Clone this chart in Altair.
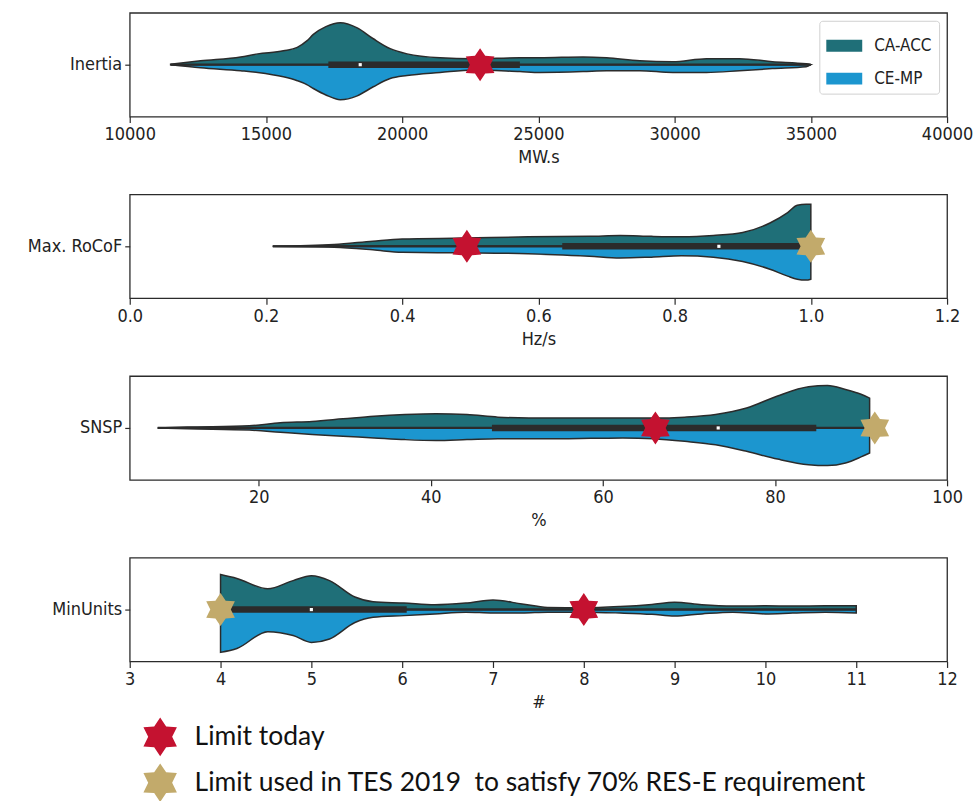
import math
import altair as alt
import pandas as pd

# ---------------- data ----------------
SERIES = ["CA-ACC", "CE-MP"]
LIMITS = ["Limit today", "Limit used in TES 2019\u00a0 to satisfy 70% RES-E requirement"]

# Inertia (MW.s): relative half-widths of the split violin
inertia_x = [11500, 12600, 14070, 14700, 15640, 16150, 16500, 16740, 17200, 17730, 18350,
             18940, 19560, 20180, 21390, 22600, 24320, 25060, 26640, 27500, 28720, 29930,
             31170, 32380, 33590, 34830, 35000]
inertia_up = [0.01, 0.09, 0.18, 0.25, 0.32, 0.40, 0.55, 0.70, 0.88, 0.97, 0.85, 0.60, 0.37,
              0.25, 0.16, 0.14, 0.16, 0.16, 0.18, 0.16, 0.09, 0.07, 0.14, 0.14, 0.07, 0.02,
              0.0]
inertia_lo = [0.0, 0.07, 0.14, 0.18, 0.28, 0.37, 0.46, 0.55, 0.70, 0.81, 0.72, 0.51, 0.32,
              0.25, 0.18, 0.12, 0.16, 0.18, 0.16, 0.14, 0.14, 0.18, 0.18, 0.14, 0.09, 0.05,
              0.0]
inertia_box = [11500, 17290, 18460, 24320, 35000]   # min, q1, median, q3, max
inertia_lim = [22860, None]

# Max. RoCoF (Hz/s)
rocof_x = [0.21, 0.30, 0.357, 0.40, 0.49, 0.585, 0.675, 0.72, 0.766, 0.81, 0.857, 0.90,
           0.94, 0.966, 0.98, 0.993, 1.0]
rocof_up = [0.0, 0.04, 0.12, 0.17, 0.19, 0.22, 0.23, 0.25, 0.23, 0.22, 0.25, 0.32, 0.54,
            0.78, 0.95, 0.97, 0.97]
rocof_lo = [0.0, 0.02, 0.08, 0.14, 0.15, 0.17, 0.23, 0.27, 0.25, 0.22, 0.25, 0.35, 0.53,
            0.69, 0.76, 0.78, 0.76]
rocof_box = [0.21, 0.635, 0.865, 0.99, 1.0]
rocof_lim = [0.495, 1.0]

# SNSP (%)
snsp_x = [8.25, 11.7, 18.9, 22.5, 26.2, 29.8, 33.4, 37.0, 40.6, 44.2, 47.8, 51.4, 55.0,
          58.6, 62.3, 65.9, 69.5, 73.1, 76.7, 80.3, 83.9, 86.1, 88.2, 90.0, 91.0]
snsp_up = [0.0, 0.02, 0.05, 0.12, 0.15, 0.21, 0.27, 0.31, 0.33, 0.31, 0.25, 0.23, 0.23,
           0.23, 0.23, 0.23, 0.25, 0.31, 0.46, 0.74, 0.95, 0.98, 0.89, 0.78, 0.69]
snsp_lo = [0.0, 0.02, 0.05, 0.10, 0.15, 0.19, 0.23, 0.27, 0.29, 0.27, 0.25, 0.25, 0.25,
           0.24, 0.23, 0.25, 0.31, 0.39, 0.54, 0.72, 0.85, 0.87, 0.81, 0.67, 0.58]
snsp_box = [8.25, 47.1, 73.4, 84.8, 91.0]
snsp_lim = [66.1, 91.6]

# MinUnits (#)
minu_x = [4.0, 4.18, 4.52, 4.8, 5.0, 5.2, 5.48, 5.68, 6.02, 6.36, 6.7, 7.0, 7.32, 7.6,
          8.0, 8.4, 8.75, 9.0, 9.3, 9.64, 10.0, 10.3, 10.66, 11.0]
minu_up = [0.81, 0.72, 0.48, 0.67, 0.78, 0.67, 0.29, 0.18, 0.15, 0.11, 0.15, 0.22, 0.13,
           0.05, 0.04, 0.07, 0.12, 0.17, 0.11, 0.08, 0.09, 0.08, 0.09, 0.09]
minu_lo = [0.99, 0.90, 0.51, 0.60, 0.76, 0.68, 0.30, 0.18, 0.14, 0.10, 0.06, 0.08, 0.08,
           0.06, 0.06, 0.08, 0.11, 0.15, 0.10, 0.06, 0.10, 0.08, 0.06, 0.08]
minu_box = [4.0, 4.0, 5.0, 6.05, 11.0]
minu_lim = [8.0, 4.0]

# ---------------- styling ----------------
TEAL, BLUE = "#1f6f78", "#1c96cf"
RED, GOLD = "#c41230", "#c2aa6b"
DARK = "#2b2b2b"
FONT = "DejaVu Sans Condensed, DejaVu Sans"
W, H = 819, 104


def star_path(n=6, inner=0.62):
    pts = []
    for k in range(2 * n):
        a = math.radians(-90 + 180.0 / n * k)
        r = 1.0 if k % 2 == 0 else inner
        pts.append((r * math.cos(a), r * math.sin(a)))
    return "M" + "L".join(f"{x:.3f},{y:.3f}" for x, y in pts) + "Z"


STAR = star_path()
SWATCH = "M-1,-0.33L1,-0.33L1,0.33L-1,0.33Z"

fill_scale = alt.Scale(domain=LIMITS, range=[RED, GOLD])
fill_legend = alt.Legend(
    title=None, orient="none", legendX=11, legendY=706, direction="vertical",
    symbolType=STAR, symbolSize=1500, symbolStrokeWidth=0, symbolOpacity=1,
    labelFont="Lato", labelFontSize=26.5, labelColor="#111", labelOffset=15,
    rowPadding=7, labelLimit=900,
)


def panel(name, xs, up, lo, box, lim, domain, ticks, fmt, title, first=False):
    n = len(xs)
    vdf = pd.DataFrame({
        "x": list(xs) + list(xs),
        "d": list(up) + [-v for v in lo],
        "series": [SERIES[0]] * n + [SERIES[1]] * n,
    })
    bdf = pd.DataFrame([{"lo": box[0], "q1": box[1], "med": box[2], "q3": box[3], "hi": box[4]}])
    sdf = pd.DataFrame([{"x": v, "limit": LIMITS[i]} for i, v in enumerate(lim) if v is not None])

    xscale = alt.Scale(domain=domain, nice=False, zero=False)
    yscale = alt.Scale(domain=[-1.2, 1.2], nice=False)
    xaxis = alt.Axis(values=ticks, format=fmt, title=title, grid=False, domain=False,
                     tickSize=6, tickColor=DARK, tickWidth=1.2, labelPadding=3,
                     titlePadding=5, labelFlush=False)
    yaxis = alt.Axis(values=[0], labelExpr=f"'{name}'", title=None, grid=False,
                     domain=False, tickSize=5, tickColor=DARK, tickWidth=1.2,
                     labelPadding=3, minExtent=124, maxExtent=124)

    if first:
        cleg = alt.Legend(title=None, orient="top-right", offset=8, symbolType=SWATCH,
                          symbolSize=1296, symbolStrokeWidth=0, symbolOpacity=1,
                          labelFont=FONT, labelFontSize=17, labelColor="#222",
                          labelOffset=12, rowPadding=7, padding=7, strokeColor="#d0d0d0",
                          fillColor="white", cornerRadius=3)
    else:
        cleg = None

    area = alt.Chart(vdf).mark_area(
        interpolate="monotone", stroke=DARK, strokeWidth=1.5, opacity=1, fillOpacity=1
    ).encode(
        x=alt.X("x:Q", scale=xscale, axis=xaxis),
        y=alt.Y("d:Q", scale=yscale, axis=yaxis),
        y2=alt.datum(0),
        color=alt.Color("series:N", scale=alt.Scale(domain=SERIES, range=[TEAL, BLUE]),
                        legend=cleg),
    )
    whisker = alt.Chart(bdf).mark_rule(color=DARK, strokeWidth=2.3).encode(
        x="lo:Q", x2="hi:Q", y=alt.datum(0))
    boxr = alt.Chart(bdf).mark_rule(color=DARK, strokeWidth=6.5).encode(
        x="q1:Q", x2="q3:Q", y=alt.datum(0))
    med = alt.Chart(bdf).mark_point(shape="square", filled=True, color="white",
                                    size=10, opacity=1).encode(x="med:Q", y=alt.datum(0))
    stars = alt.Chart(sdf).mark_point(shape=STAR, filled=True, size=1100, opacity=1,
                                      strokeWidth=0).encode(
        x="x:Q", y=alt.datum(0),
        fill=alt.Fill("limit:N", scale=fill_scale, legend=fill_legend),
    )
    return alt.layer(area, whisker, boxr, med, stars).properties(width=W, height=H)


p1 = panel("Inertia", inertia_x, inertia_up, inertia_lo, inertia_box, inertia_lim,
           [10000, 40000], list(range(10000, 40001, 5000)), "d", "MW.s", first=True)
p2 = panel("Max. RoCoF", rocof_x, rocof_up, rocof_lo, rocof_box, rocof_lim,
           [0, 1.2], [0, 0.2, 0.4, 0.6, 0.8, 1.0, 1.2], ".1f", "Hz/s")
p3 = panel("SNSP", snsp_x, snsp_up, snsp_lo, snsp_box, snsp_lim,
           [5, 100], [20, 40, 60, 80, 100], "d", "%")
p4 = panel("MinUnits", minu_x, minu_up, minu_lo, minu_box, minu_lim,
           [3, 12], list(range(3, 13)), "d", "#")

chart = alt.vconcat(p1, p2, p3, p4, spacing=26).resolve_scale(
    color="independent", fill="shared", x="independent", y="independent"
).properties(
    padding={"left": 5, "top": 11, "right": 0, "bottom": 0},
    background="white",
).configure_view(
    stroke=DARK, strokeWidth=1.3
).configure_axis(
    labelFont=FONT, labelFontSize=18, labelColor="#222",
    titleFont=FONT, titleFontSize=18, titleColor="#222", titleFontWeight="normal",
)

chart.save("out.html", embed_options={"renderer": "svg", "actions": False})
